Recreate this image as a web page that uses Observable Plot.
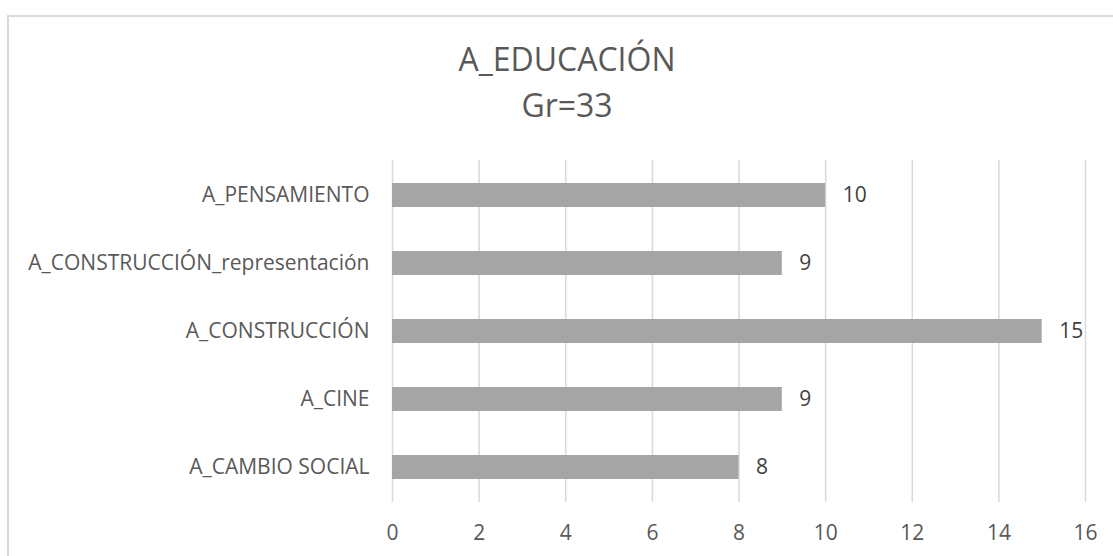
<!DOCTYPE html>
<html>
<head>
<meta charset="utf-8">
<script src="https://cdn.jsdelivr.net/npm/d3@7"></script>
<script src="https://cdn.jsdelivr.net/npm/@observablehq/plot@0.6"></script>
<style>
  html, body { margin: 0; padding: 0; background: #fff; overflow: hidden; }
  #wrap { position: relative; width: 1113px; height: 556px; overflow: hidden; font-family: "Open Sans", sans-serif; }
  #frame { position: absolute; left: 7px; top: 15px; width: 1300px; height: 800px; border: 2px solid #d9d9d9; box-sizing: border-box; }
  .title { position: absolute; left: 0; width: 1134px; text-align: center; color: #595959; font-size: 32px; line-height: 32px; white-space: nowrap; }
  #chart { position: absolute; left: 0; top: 0; }
</style>
</head>
<body>
<div id="wrap">
  <div id="frame"></div>
  <div class="title" style="top:43px">A_EDUCACIÓN</div>
  <div class="title" style="top:89px">Gr=33</div>
  <div id="chart"></div>
</div>
<script>
const categories = ["A_PENSAMIENTO", "A_CONSTRUCCIÓN_representación", "A_CONSTRUCCIÓN", "A_CINE", "A_CAMBIO SOCIAL"];
const values = [10, 9, 15, 9, 8];
const xTicks = [0, 2, 4, 6, 8, 10, 12, 14, 16];

const data = categories.map((c, i) => ({category: c, value: values[i]}));

const plot = Plot.plot({
  width: 1113,
  height: 556,
  marginLeft: 392,
  marginRight: 28,
  marginTop: 160,
  marginBottom: 54,
  style: {fontFamily: "'Open Sans', sans-serif", fontSize: "21px", color: "#595959", background: "transparent", overflow: "visible"},
  x: {domain: [0, 16], ticks: xTicks, label: null},
  y: {domain: categories, paddingInner: 0.65, paddingOuter: 0.325, label: null},
  marks: [
    Plot.gridX(xTicks, {stroke: "#d9d9d9", strokeOpacity: 1, strokeWidth: 1.5}),
    Plot.barX(data, {x: "value", y: "category", fill: "#a5a5a5"}),
    Plot.text(data, {x: "value", y: "category", text: d => String(d.value), textAnchor: "start", dx: 17, fill: "#404040", fontSize: 21}),
    Plot.axisX({ticks: xTicks, tickSize: 0, tickPadding: 23, fill: "#595959", fontSize: 21}),
    Plot.axisY({tickSize: 0, tickPadding: 23, fill: "#595959", fontSize: 21})
  ]
});
document.getElementById("chart").appendChild(plot);
</script>
</body>
</html>
